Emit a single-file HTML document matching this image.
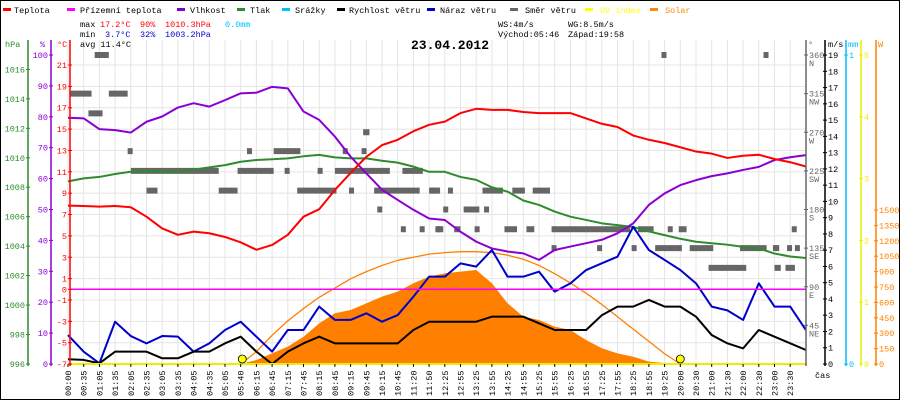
<!DOCTYPE html>
<html><head><meta charset="utf-8">
<style>
html,body{margin:0;padding:0;background:#fff}
svg{display:block}
text{font-family:"Liberation Mono","DejaVu Sans Mono",monospace;font-size:8.5px}
</style></head>
<body>
<svg id="chart" width="900" height="400" viewBox="0 0 900 400" xmlns="http://www.w3.org/2000/svg">
<rect x="0.5" y="0.5" width="899" height="399" fill="#fff" stroke="#000"/>
<g id="grid"></g>
<g id="marks"></g>
<g id="axes"></g>
<g id="legend">
 <rect x="3" y="8" width="8" height="3" fill="#f00"/><text x="14" y="13">Teplota</text>
 <rect x="67" y="8" width="8" height="3" fill="#f0f"/><text x="80" y="13">Přízemní teplota</text>
 <rect x="177" y="8" width="8" height="3" fill="#8000d0"/><text x="190" y="13">Vlhkost</text>
 <rect x="237" y="8" width="8" height="3" fill="#2e8b2e"/><text x="250" y="13">Tlak</text>
 <rect x="282" y="8" width="8" height="3" fill="#00bfff"/><text x="295" y="13">Srážky</text>
 <rect x="337" y="8" width="8" height="3" fill="#000"/><text x="349" y="13">Rychlost větru</text>
 <rect x="427" y="8" width="8" height="3" fill="#00c"/><text x="440" y="13">Náraz větru</text>
 <rect x="510" y="8" width="8" height="3" fill="#666"/><text x="525" y="13">Směr větru</text>
 <rect x="585" y="8" width="8" height="3" fill="#ff0"/><text x="600" y="13" fill="#ff0">UV index</text>
 <rect x="650" y="8" width="8" height="3" fill="#f80"/><text x="665" y="13" fill="#f80">Solar</text>
</g>
<g id="stats">
 <text x="80" y="27">max</text>
 <text x="100" y="27" fill="#f00">17.2°C</text>
 <text x="140" y="27" fill="#f00">90%</text>
 <text x="165" y="27" fill="#f00">1010.3hPa</text>
 <text x="225" y="27" fill="#00bfff">0.0mm</text>
 <text x="80" y="37">min</text>
 <text x="105" y="37" fill="#00c">3.7°C</text>
 <text x="140" y="37" fill="#00c">32%</text>
 <text x="165" y="37" fill="#00c">1003.2hPa</text>
 <text x="80" y="47">avg 11.4°C</text>
 <text x="498" y="27">WS:4m/s</text>
 <text x="568" y="27">WG:8.5m/s</text>
 <text x="498" y="37">Východ:05:46</text>
 <text x="568" y="37">Západ:19:58</text>
 <text x="450" y="49" text-anchor="middle" style="font-size:13px;font-weight:bold">23.04.2012</text>
</g>
</svg>
<script>
const timeLabels=["00:00","00:35","01:05","01:35","02:05","02:35","03:05","03:35","04:05","04:35","05:05","05:40","06:15","06:45","07:15","07:45","08:15","08:45","09:15","09:45","10:15","10:45","11:20","11:50","12:25","12:55","13:25","13:55","14:25","14:55","15:25","15:55","16:25","16:55","17:25","17:55","18:25","18:55","19:25","20:00","20:30","21:00","21:30","22:00","22:30","23:00","23:30"];
const temperature=[7.83,7.8,7.74,7.8,7.68,6.8,5.7,5.1,5.4,5.25,4.9,4.4,3.7,4.15,5.1,6.8,7.5,9.3,10.9,12.4,13.5,14.0,14.8,15.4,15.7,16.5,16.9,16.8,16.8,16.6,16.5,16.5,16.5,16.0,15.5,15.2,14.4,14.0,13.7,13.3,12.9,12.7,12.3,12.5,12.6,12.2,11.9,11.5];
const humidity=[79.7,79.5,76.0,75.7,74.9,78.4,80.1,83.0,84.4,83.3,85.4,87.6,87.8,89.7,89.2,81.7,79.0,73.6,67.1,61.7,56.4,53.1,49.9,47.1,46.6,42.8,39.6,37.4,36.4,35.8,33.7,36.9,38.0,39.1,40.2,42.3,45.5,51.5,55.2,57.9,59.5,60.8,61.7,62.8,63.8,66.0,66.9,67.6];
const pressure=[1008.4,1008.6,1008.7,1008.9,1009.05,1009.1,1009.05,1009.05,1009.2,1009.35,1009.5,1009.73,1009.85,1009.9,1009.96,1010.1,1010.2,1010.03,1009.96,1009.96,1009.8,1009.67,1009.4,1009.05,1009.05,1008.7,1008.5,1008.0,1007.7,1007.1,1006.8,1006.35,1006.0,1005.78,1005.55,1005.43,1005.3,1005.0,1004.75,1004.5,1004.3,1004.2,1004.1,1003.95,1003.85,1003.5,1003.3,1003.2];
const windSpeed=[0.29,0.25,0.04,0.76,0.76,0.76,0.35,0.35,0.76,0.76,1.27,1.68,0.76,0,0.76,1.27,1.68,1.27,1.27,1.27,1.27,1.27,2.09,2.6,2.6,2.6,2.6,2.91,2.91,2.91,2.5,2.09,2.09,2.09,3.0,3.53,3.53,3.94,3.53,3.53,2.91,1.78,1.27,0.96,2.09,1.68,1.27,0.86];
const windGust=[1.78,0.76,0.04,2.6,1.72,1.27,1.72,1.68,0.76,1.27,2.09,2.6,1.68,0.76,2.09,2.09,3.53,2.71,2.71,3.12,2.6,3.01,4.14,5.37,5.37,6.19,5.99,7.01,5.37,5.37,5.68,4.45,4.96,5.78,6.19,6.6,8.44,7.01,6.4,5.78,4.96,3.53,3.3,2.71,4.96,3.53,3.53,2.09];
const solar=[0,0,0,0,0,0,0,0,0,0,0,0,39,104,169,266,396,494,526,591,656,705,786,851,883,900,916,786,591,461,429,364,331,234,153,104,71,23,10,0,0,0,0,0,0,0,0,0];
const solarTheory=[0,0,0,0,0,0,0,0,0,0,0,0,120,280,420,540,650,740,830,900,960,1010,1040,1070,1085,1094,1094,1085,1060,1020,960,880,790,690,580,460,340,220,100,0,0,0,0,0,0,0,0,0];
const uvMarks=[11.1,39.0];
const dirStart=[0.1,1.7,2.6,1.3,3.8,4.0,10.8,13.8,15.9,17.0,21.3,5.0,9.6,14.6,17.9,19.5,23.0,11.4,13.1,17.5,18.7,18.8,19.7,21.2,22.4,23.4,37.8,44.3,23.1,24.2,26.4,28.3,29.6,23.9,25.2,26.5,23.5,24.6,25.9,27.8,29.2,30.8,36.3,38.2,38.9,46.1,30.8,33.7,35.9,37.4,39.6,42.8,44.9,45.8,46.3,40.8,45.0,45.7];
const dirEnd=[1.5,2.6,3.8,2.2,3.9,9.6,13.1,14.0,16.1,20.5,22.6,5.7,10.8,17.1,18.1,22.4,23.7,11.6,14.8,17.8,19.0,19.2,20.0,21.4,22.6,23.7,38.0,44.5,23.6,24.4,27.7,29.1,30.7,24.1,26.2,26.8,23.9,25.0,26.1,28.6,29.7,35.8,37.3,38.4,39.4,46.4,31.0,33.9,36.2,39.1,41.1,44.5,45.3,46.0,46.6,43.2,45.4,46.3];
const dirDeg=[315,360,315,292,248,225,225,225,225,225,225,202,202,202,202,202,202,248,248,248,248,270,180,157,157,157,360,360,202,202,202,202,202,180,180,180,157,157,157,157,157,157,157,157,157,157,135,135,135,135,135,135,135,135,135,112,112,112];

const hpaTicks=[996,998,1000,1002,1004,1006,1008,1010,1012,1014,1016];
const humTicks=[0,10,20,30,40,50,60,70,80,90,100];
const tempTicks=[-7,-5,-3,-1,0,1,3,5,7,9,11,13,15,17,19,21];
const dirTicks=[45,90,135,180,225,270,315,360];
const dirNames=["NE","E","SE","S","SW","W","NW","N"];
const msTicks=[0,1,2,3,4,5,6,7,8,9,10,11,12,13,14,15,16,17,18,19];
const uvTicks=[0,1,2,3,4,5];
const wTicks=[0,150,300,450,600,750,900,1050,1200,1350,1500];

const NS="http://www.w3.org/2000/svg";
const xi=i=>68+i*15.7;
const yT=t=>289.3-t*10.68;
const yH=h=>364-h*3.09;
const yP=p=>364-(p-996)*14.73;
const yM=m=>364-m*16.26;
const yD=d=>364-d*309/360;
const yS=w=>364-w*154/1500;
const yU=u=>364-u*309/5;
function mk(tag,attrs,parent){const e=document.createElementNS(NS,tag);for(const k in attrs)e.setAttribute(k,attrs[k]);parent.appendChild(e);return e;}
const grid=document.getElementById('grid'),marks=document.getElementById('marks'),axes=document.getElementById('axes');

// grid
timeLabels.forEach((lab,i)=>{
 const l=mk('line',{x1:xi(i),x2:xi(i),y1:40,y2:364,stroke:'#e4e4e4'},grid);
 
 
 const tk=mk('line',{x1:xi(i),x2:xi(i),y1:364,y2:367,stroke:'#000'},axes);
 
 
 const t=mk('text',{x:0,y:0,transform:`translate(${xi(i)+3},396) rotate(-90)`},axes);
 t.textContent=lab;
 
 
});
tempTicks.forEach(v=>{if(v===0)return;
 const l=mk('line',{x1:70,x2:806,y1:yT(v),y2:yT(v),stroke:'#e4e4e4'},grid);
 
 
});
mk('rect',{x:70,y:40,width:736,height:324,fill:'none'},grid);

// solar fill
{let pts=`${xi(0)},364 `;solar.forEach((v,i)=>pts+=`${xi(i)},${yS(v)} `);pts+=`${xi(solar.length-1)},364`;
 const p=mk('polygon',{points:pts,fill:'#ff8000'},marks);
 
 }
function line(arr,fy,color,name,w){const pts=arr.map((v,i)=>`${xi(i)},${fy(v)}`).join(' ');
 const p=mk('polyline',{points:pts,fill:'none',stroke:color,'stroke-width':w||2,'stroke-linejoin':'round'},marks);
 
 }
line(solarTheory,yS,'#ff8000','solar-theoretical-line',1.3);
dirStart.forEach((s,k)=>{
 const r=mk('rect',{x:xi(s),y:yD(dirDeg[k])-3,width:Math.max(5,xi(dirEnd[k])-xi(s)),height:6,fill:'#666'},marks);
 
 
});
line(pressure,yP,'#2e8b2e','pressure-line');
line(humidity,yH,'#8a00d4','humidity-line');
line(temperature,yT,'#f00','temperature-line');
line(windGust,yM,'#00c','wind-gust-line');
line(windSpeed,yM,'#000','wind-speed-line');
{const z=mk('line',{x1:70,x2:806,y1:yT(0),y2:yT(0),stroke:'#f0f','stroke-width':1.5},marks);
 
 
 const b=mk('line',{x1:70,x2:806,y1:364,y2:364,stroke:'#ee0','stroke-width':2},marks);
 
 }
uvMarks.forEach(i=>{const c=mk('circle',{cx:xi(i),cy:359,r:4,fill:'#ff0',stroke:'#000','stroke-width':0.8},marks);
 
 });

// axes
function axis(x,color,ticks,fy,side,name,labelFn){
 const a=mk('line',{x1:x,x2:x,y1:40,y2:366,stroke:color,'stroke-width':1.5},axes);
 
 
 ticks.forEach((v,k)=>{
  const tk=mk('line',{x1:x-2,x2:x+2,y1:fy(v),y2:fy(v),stroke:color},axes);
  
  
  const t=mk('text',{x:side<0?x-3:x+3,y:fy(v)+3,fill:color,'text-anchor':side<0?'end':'start'},axes);
  t.textContent=labelFn?labelFn(v,k):String(v);
  
  
 });
}
axis(28,'#2e8b2e',hpaTicks,yP,-1,'pressure-axis');
axis(51,'#8a00d4',humTicks,yH,-1,'humidity-axis');
axis(70,'#f00',tempTicks,yT,-1,'temperature-axis');
axis(806,'#666',dirTicks,yD,1,'direction-axis');
dirTicks.forEach((v,k)=>{const t=mk('text',{x:809,y:yD(v)+11,fill:'#666'},axes);t.textContent=dirNames[k];
 
 });
axis(825,'#000',msTicks,yM,1,'wind-axis');
axis(846,'#00bfff',[0,1],v=>364-v*309,1,'rain-axis');
axis(861,'#ee0',uvTicks,yU,1,'uv-axis');
axis(876,'#ff8000',wTicks,yS,1,'solar-axis',v=>v?String(v):'0');
[['hPa',5,'#2e8b2e'],['%',40,'#8a00d4'],['°C',57,'#f00'],['°',808,'#666'],['m/s',828,'#000'],['mm',848,'#00bfff'],['W',878,'#ff8000']].forEach(d=>{
 const t=mk('text',{x:d[1],y:47,fill:d[2]},axes);t.textContent=d[0];
 
 });
{const t=mk('text',{x:815,y:378},axes);t.textContent='čas';
 
 }
</script>
</body></html>
